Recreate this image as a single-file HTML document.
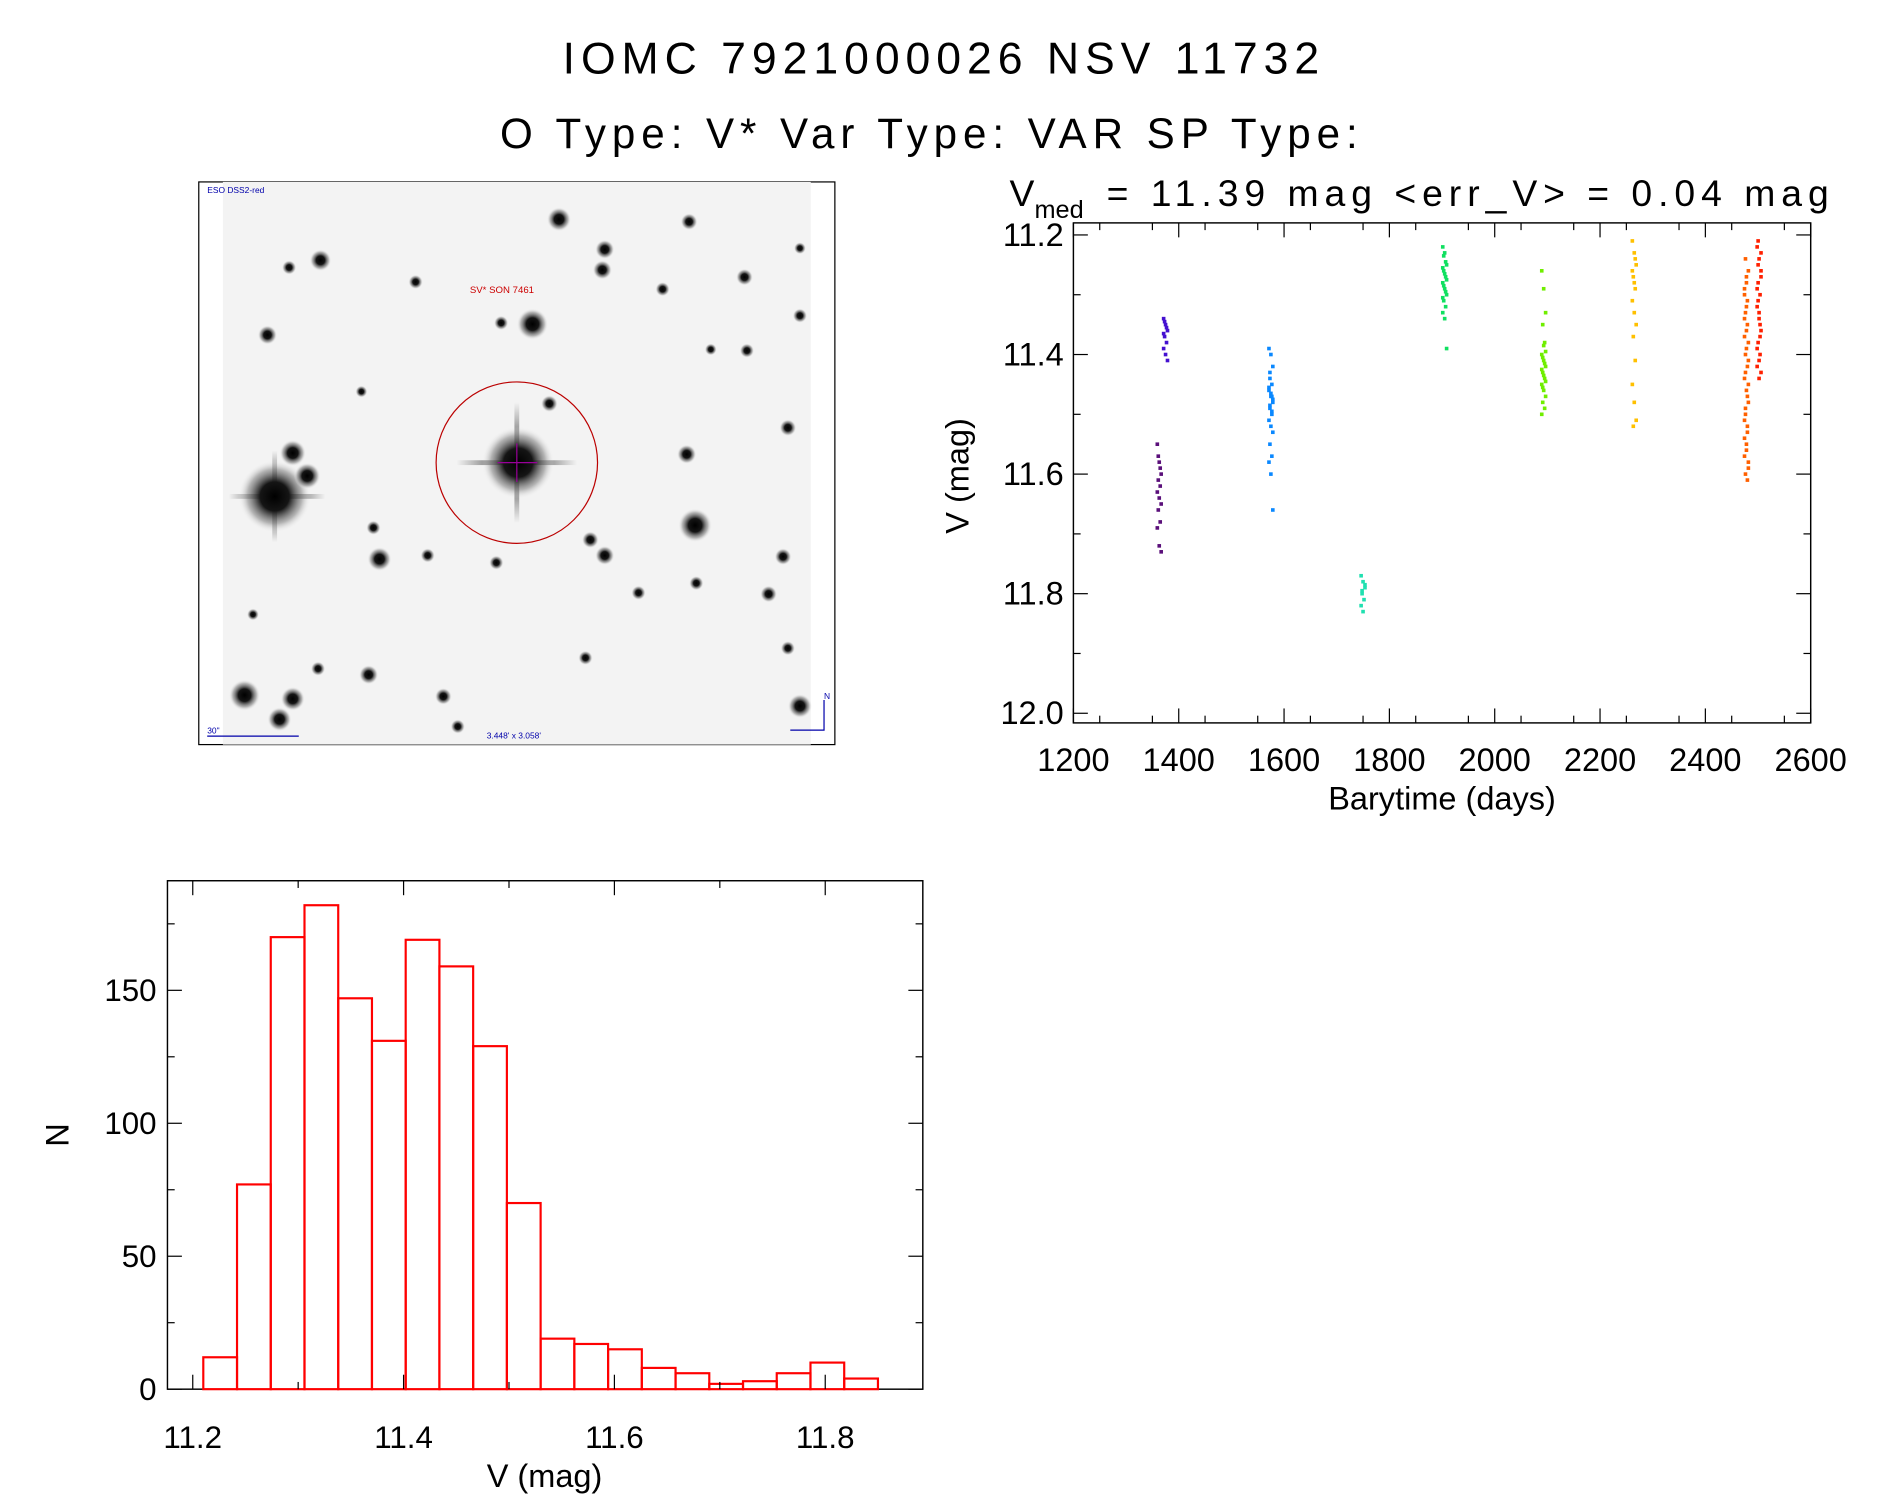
<!DOCTYPE html>
<html><head><meta charset="utf-8"><style>
html,body{margin:0;padding:0;background:#fff;}
svg{display:block;font-family:"Liberation Sans",sans-serif;}
</style></head><body>
<svg id="root" width="1889" height="1494" viewBox="0 0 1568 1240" preserveAspectRatio="none" xmlns="http://www.w3.org/2000/svg">
<defs>
<radialGradient id="star"><stop offset="0" stop-color="#000"/><stop offset="0.4" stop-color="#151515"/><stop offset="0.75" stop-color="#888" stop-opacity="0.6"/><stop offset="1" stop-color="#f4f4f4" stop-opacity="0"/></radialGradient>
<linearGradient id="spikeH"><stop offset="0" stop-color="#333" stop-opacity="0"/><stop offset="0.5" stop-color="#222"/><stop offset="1" stop-color="#333" stop-opacity="0"/></linearGradient>
<linearGradient id="spikeV" x1="0" y1="0" x2="0" y2="1"><stop offset="0" stop-color="#333" stop-opacity="0"/><stop offset="0.5" stop-color="#222"/><stop offset="1" stop-color="#333" stop-opacity="0"/></linearGradient>
</defs>
<text x="467" y="61" font-size="37" textLength="628" lengthAdjust="spacing">IOMC 7921000026    NSV 11732</text>
<text x="415" y="123" font-size="35" textLength="712" lengthAdjust="spacing">O Type: V*  Var Type: VAR  SP Type:</text>
<text x="838" y="171" font-size="31">V<tspan font-size="21" dy="10">med</tspan><tspan dy="-10" x="905" textLength="613" lengthAdjust="spacing"> = 11.39 mag &lt;err_V&gt; = 0.04 mag</tspan></text>

<g>
<rect x="165" y="151" width="528" height="467" fill="#fff" stroke="#000" stroke-width="1"/>
<rect x="185" y="151" width="488" height="467" fill="#f3f3f3"/>
<g id="stars"></g>
<circle cx="429" cy="384" r="67" fill="none" stroke="#b00" stroke-width="1"/>
<line x1="413" y1="384" x2="446" y2="384" stroke="#909" stroke-width="1"/>
<line x1="429" y1="368" x2="429" y2="400" stroke="#909" stroke-width="1"/>
<text x="390" y="243" font-size="8" fill="#c00">SV* SON 7461</text>
<text x="172" y="160" font-size="7" fill="#00a">ESO DSS2-red</text>
<text x="172" y="609" font-size="7" fill="#00a">30"</text>
<line x1="172" y1="611" x2="248" y2="611" stroke="#00a"/>
<text x="404" y="613" font-size="7" fill="#00a">3.448' x 3.058'</text>
<polyline points="684,581 684,606 656,606" fill="none" stroke="#00a"/>
<text x="684" y="580" font-size="7" fill="#00a">N</text>
</g>

<g id="lc"></g>
<g id="hist"></g>
</svg>
<script>
const NS="http://www.w3.org/2000/svg";
function mk(p,t,a){const e=document.createElementNS(NS,t);for(const k in a)e.setAttribute(k,a[k]);p.appendChild(e);return e;}
const starX=[464,572,502,500,266,240,618,664,345,550,442,416,222,664,620,430,228,243,255,570,654,456,577,315,502,490,310,650,638,654,203,243,232,306,368,664,486,578,264,412,355,530,300,210,590,380];
const starY=[182,184,207,224,216,222,230,206,234,240,269,268,278,262,291,384,412,376,395,377,355,335,436,464,461,448,438,462,493,538,577,580,597,560,578,586,546,484,555,467,461,492,325,510,290,603];
const starR=[10,7,8,8,9,6,7,5,6,6,13,6,8,6,6,30,30,11,11,8,7,7,14,10,8,7,6,7,7,6,13,10,10,8,7,10,6,6,6,6,6,6,5,5,5,6];
const sg=document.getElementById('stars');
mk(sg,'rect',{x:379,y:382,width:100,height:4,fill:'url(#spikeH)'});
mk(sg,'rect',{x:427,y:334,width:4,height:100,fill:'url(#spikeV)'});
mk(sg,'rect',{x:190,y:410,width:80,height:4,fill:'url(#spikeH)'});
mk(sg,'rect',{x:226,y:374,width:4,height:76,fill:'url(#spikeV)'});
for(let i=0;i<starX.length;i++){const c=mk(sg,'circle',{cx:starX[i],cy:starY[i],r:starR[i],fill:'url(#star)'});

}

const lcColors=['#5a0f7a','#4410d0','#0a88ff','#20e0b0','#10e060','#70ee00','#ffc000','#ff6000','#ff2000'];
const lcTimes=[1363,1375,1575,1750,1905,2093,2265,2478,2502];
const lcMags=[
[11.55,11.58,11.6,11.61,11.62,11.63,11.64,11.65,11.66,11.68,11.69,11.72,11.73,11.57,11.59],
[11.34,11.35,11.36,11.37,11.38,11.39,11.4,11.41,11.345,11.355,11.365],
[11.39,11.4,11.42,11.44,11.45,11.46,11.47,11.48,11.49,11.5,11.51,11.52,11.53,11.55,11.57,11.58,11.6,11.66,11.43,11.47,11.455,11.465,11.475,11.485,11.495],
[11.77,11.78,11.79,11.8,11.81,11.82,11.83,11.785,11.795],
[11.22,11.23,11.25,11.26,11.27,11.28,11.29,11.3,11.31,11.32,11.33,11.34,11.39,11.235,11.245,11.255,11.265,11.275,11.285,11.295,11.305],
[11.26,11.29,11.33,11.35,11.38,11.4,11.41,11.42,11.43,11.44,11.45,11.46,11.47,11.48,11.49,11.5,11.385,11.395,11.405,11.415,11.425,11.435,11.445,11.455],
[11.21,11.23,11.25,11.27,11.29,11.31,11.33,11.35,11.37,11.41,11.45,11.48,11.51,11.52,11.24,11.26,11.28],
[11.34,11.36,11.38,11.4,11.42,11.44,11.46,11.48,11.5,11.52,11.54,11.56,11.58,11.6,11.61,11.3,11.32,11.45,11.49,11.53,11.57,11.28,11.26,11.24,11.35,11.37,11.39,11.41,11.43,11.47,11.51,11.55,11.59,11.33,11.31,11.29,11.27],
[11.22,11.24,11.26,11.28,11.3,11.32,11.34,11.36,11.38,11.4,11.42,11.44,11.27,11.31,11.35,11.29,11.33,11.23,11.25,11.37,11.39,11.41,11.43,11.21]
];
const lcXTicks=[1200,1400,1600,1800,2000,2200,2400,2600];
const lcYTicks=[11.2,11.4,11.6,11.8,12.0];
const lcL=891,lcR=1503,lcT=185,lcB=600;
const lx=t=>lcL+(t-1200)/1400*(lcR-lcL);
const ly=v=>195+(v-11.2)/0.8*(592-195);
const lc=document.getElementById('lc');
const lb=mk(lc,'rect',{x:lcL,y:lcT,width:lcR-lcL,height:lcB-lcT,fill:'none',stroke:'#000','stroke-width':1.2});


lcXTicks.forEach(t=>{const x=lx(t);
mk(lc,'line',{x1:x,y1:lcB,x2:x,y2:lcB-12,stroke:'#000'});mk(lc,'line',{x1:x,y1:lcT,x2:x,y2:lcT+12,stroke:'#000'});
const tx=mk(lc,'text',{x:x,y:640,'font-size':27,'text-anchor':'middle'});tx.textContent=t;

});
for(let t=1250;t<2560;t+=100){const x=lx(t);mk(lc,'line',{x1:x,y1:lcB,x2:x,y2:lcB-6,stroke:'#000'});mk(lc,'line',{x1:x,y1:lcT,x2:x,y2:lcT+6,stroke:'#000'});}
lcYTicks.forEach(v=>{const y=ly(v);
mk(lc,'line',{x1:lcL,y1:y,x2:lcL+12,y2:y,stroke:'#000'});mk(lc,'line',{x1:lcR,y1:y,x2:lcR-12,y2:y,stroke:'#000'});
const tx=mk(lc,'text',{x:883,y:y+9,'font-size':27,'text-anchor':'end'});tx.textContent=v.toFixed(1);

});
for(let v=11.3;v<11.95;v+=0.2){const y=ly(v);mk(lc,'line',{x1:lcL,y1:y,x2:lcL+6,y2:y,stroke:'#000'});mk(lc,'line',{x1:lcR,y1:y,x2:lcR-6,y2:y,stroke:'#000'});}
let xt=mk(lc,'text',{x:1197,y:672,'font-size':27,'text-anchor':'middle'});xt.textContent='Barytime (days)';


let yt=mk(lc,'text',{x:804,y:395,'font-size':27,'text-anchor':'middle',transform:'rotate(-90 804 395)'});yt.textContent='V (mag)';


lcMags.forEach((arr,ci)=>{arr.forEach((m,j)=>{
const jit=((j*7)%5-2)*0.8;
const p=mk(lc,'rect',{x:lx(lcTimes[ci])+jit-1.5,y:ly(m)-1.5,width:3,height:3,fill:lcColors[ci]});

});});

const binStart=11.21, binWidth=0.032;
const counts=[12,77,170,182,147,131,169,159,129,70,19,17,15,8,6,2,3,6,10,4];
const hXTicks=[11.2,11.4,11.6,11.8];
const hYTicks=[0,50,100,150];
const hL=139,hR=766,hT=731,hB=1153;
const hx=v=>160+(v-11.2)/0.2*(335-160);
const hy=n=>hB-n*2.207;
const h=document.getElementById('hist');
const hb=mk(h,'rect',{x:hL,y:hT,width:hR-hL,height:hB-hT,fill:'none',stroke:'#000','stroke-width':1.2});


counts.forEach((c,i)=>{const x0=hx(binStart+i*binWidth),x1=hx(binStart+(i+1)*binWidth);
const r=mk(h,'rect',{x:x0,y:hy(c),width:x1-x0,height:hB-hy(c),fill:'none',stroke:'#f00','stroke-width':1.8});

});
hXTicks.forEach(v=>{const x=hx(v);mk(h,'line',{x1:x,y1:hB,x2:x,y2:hB-12,stroke:'#000'});mk(h,'line',{x1:x,y1:hT,x2:x,y2:hT+12,stroke:'#000'});
const tx=mk(h,'text',{x:x,y:1202,'font-size':26,'text-anchor':'middle'});tx.textContent=v.toFixed(1);

});
for(let v=11.3;v<11.85;v+=0.2){const x=hx(v);mk(h,'line',{x1:x,y1:hB,x2:x,y2:hB-6,stroke:'#000'});mk(h,'line',{x1:x,y1:hT,x2:x,y2:hT+6,stroke:'#000'});}
hYTicks.forEach(n=>{const y=hy(n);mk(h,'line',{x1:hL,y1:y,x2:hL+12,y2:y,stroke:'#000'});mk(h,'line',{x1:hR,y1:y,x2:hR-12,y2:y,stroke:'#000'});
const tx=mk(h,'text',{x:130,y:y+9,'font-size':26,'text-anchor':'end'});tx.textContent=n;

});
for(let n=25;n<190;n+=50){const y=hy(n);mk(h,'line',{x1:hL,y1:y,x2:hL+6,y2:y,stroke:'#000'});mk(h,'line',{x1:hR,y1:y,x2:hR-6,y2:y,stroke:'#000'});}
let hxt=mk(h,'text',{x:452,y:1234,'font-size':27,'text-anchor':'middle'});hxt.textContent='V (mag)';


let hyt=mk(h,'text',{x:57,y:942,'font-size':27,'text-anchor':'middle',transform:'rotate(-90 57 942)'});hyt.textContent='N';


</script>
</body></html>
